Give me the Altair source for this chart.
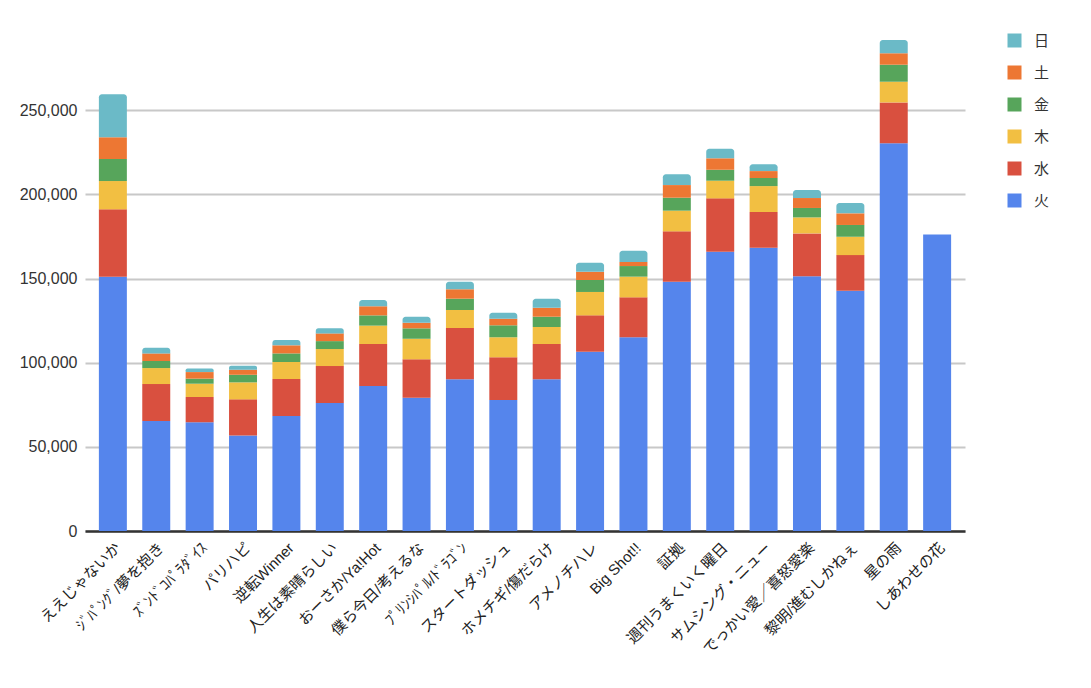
import altair as alt
import pandas as pd

songs = ["ええじゃないか", "ｼﾞﾊﾟﾝｸﾞ/夢を抱き", "ｽﾞﾝﾄﾞｺﾊﾟﾗﾀﾞｲｽ", "パリハピ", "逆転Winner",
         "人生は素晴らしい", "おーさか/Ya!Hot", "僕ら今日/考えるな", "ﾌﾟﾘﾝｼﾊﾟﾙ/ﾄﾞﾗｺﾞﾝ",
         "スタートダッシュ", "ホメチギ/傷だらけ", "アメノチハレ", "Big Shot!!", "証拠",
         "週刊うまくいく曜日", "サムシング・ニュー", "でっかい愛／喜怒愛楽", "黎明/進むしかねぇ",
         "星の雨", "しあわせの花"]

days = ["火", "水", "木", "金", "土", "日"]

tue = [151000, 65300, 64600, 56800, 68300, 76000, 86100, 79200, 90100, 77800,
       90100, 106500, 115100, 148100, 165900, 168300, 151300, 142700, 230300, 176200]
wed = [40100, 22000, 15000, 21400, 22000, 22000, 25000, 22800, 30500, 25400,
       21000, 21600, 23700, 29900, 31700, 21200, 25500, 21200, 24300, 0]
thu = [16800, 9500, 7900, 10100, 10100, 10100, 10900, 12200, 10700, 11900,
       10100, 13900, 12300, 12300, 10500, 15400, 9500, 10900, 12300, 0]
fri = [13100, 4200, 3000, 4500, 5100, 4700, 6100, 6200, 6700, 7100,
       6100, 7100, 6300, 7700, 6500, 4800, 5600, 7000, 10100, 0]
sat = [12900, 4500, 3900, 3000, 4800, 4600, 5400, 3300, 5600, 3900,
       5300, 4900, 2400, 7500, 6800, 4100, 5900, 6900, 6800, 0]
sun = [25500, 3400, 2200, 2400, 3200, 3000, 3700, 3600, 4500, 3600,
       5400, 5400, 6700, 6400, 5700, 4000, 4800, 6100, 7900, 0]

series = [tue, wed, thu, fri, sat, sun]
colors = ["#5585EC", "#D9503F", "#F2BF42", "#57A55B", "#ED7733", "#6BBAC7"]

rows = []
for di, (d, vals) in enumerate(zip(days, series)):
    for s, v in zip(songs, vals):
        if v > 0:
            rows.append({"song": s, "day": d, "ord": di, "value": v})
df = pd.DataFrame(rows)

FONT = "Liberation Sans, Arial, Noto Sans CJK JP, sans-serif"

x_enc = alt.X("song:N", sort=songs, title=None,
              scale=alt.Scale(paddingInner=0.355, paddingOuter=0.32),
              axis=alt.Axis(labelAngle=-45, labelAlign="right", labelBaseline="top",
                            labelPadding=9, ticks=False, labelFontSize=15,
                            labelColor="#222222", labelFont=FONT,
                            domainColor="#333333", domainWidth=2.5, labelOverlap=False))
y_enc = alt.Y("cum:Q", title=None,
              scale=alt.Scale(domain=[0, 300000], nice=False),
              axis=alt.Axis(values=[0, 50000, 100000, 150000, 200000, 250000],
                            format=",.0f", ticks=False, domain=False, labelPadding=8,
                            labelFontSize=16, labelColor="#333333", labelFont=FONT,
                            gridColor="#c8c8c8", gridWidth=1.8))
c_enc = alt.Color("day:N",
                  scale=alt.Scale(domain=days[::-1], range=colors[::-1]),
                  legend=alt.Legend(title=None, orient="none", legendX=922, legendY=7,
                                    symbolType="square", symbolSize=196,
                                    symbolStrokeWidth=0, labelFontSize=15,
                                    labelFont=FONT, labelColor="#333333",
                                    rowPadding=16, labelOffset=12))

base = alt.Chart(df).transform_window(
    cum="sum(value)", groupby=["song"], sort=[alt.SortField("ord")], frame=[None, 0]
).transform_calculate(
    y0="datum.cum - datum.value"
).transform_joinaggregate(
    maxord="max(ord)", groupby=["song"]
)

lower = base.transform_filter(
    "datum.ord != datum.maxord || datum.maxord == 0"
).mark_bar().encode(x=x_enc, y=y_enc, y2="y0:Q", color=c_enc)

top = base.transform_filter(
    "datum.ord == datum.maxord && datum.maxord > 0"
).mark_bar(cornerRadiusTopLeft=3, cornerRadiusTopRight=3).encode(
    x=x_enc, y=y_enc, y2="y0:Q", color=c_enc)

chart = alt.layer(lower, top).properties(
    width=880, height=505,
    background="white",
    autosize=alt.AutoSizeParams(type="none"),
    padding={"left": 77, "top": 18, "right": 110, "bottom": 150},
).configure_view(strokeWidth=0, stroke=None)

chart.save("out.html", embed_options={"renderer": "svg", "actions": False})
